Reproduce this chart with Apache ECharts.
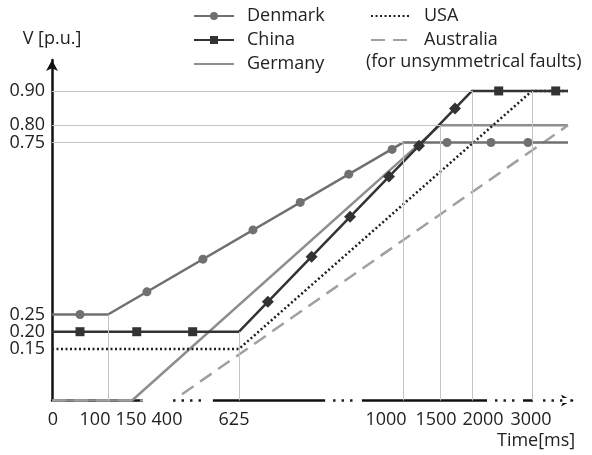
<!DOCTYPE html>
<html>
<head>
<meta charset="utf-8">
<script src="https://cdn.jsdelivr.net/npm/echarts@6/dist/echarts.min.js"></script>
<style>
  html, body { margin: 0; padding: 0; background: #fff; }
  #chart { width: 592px; height: 455px; }
</style>
</head>
<body>
<div id="chart"></div>
<script>
// Fault ride-through voltage profiles per grid code (time in ms, voltage in p.u.)
const denmarkT = [0, 100, 1000, 3600];
const denmarkV = [0.25, 0.25, 0.75, 0.75];
const denmarkMarkT = [50, 241, 502, 657, 765, 876, 975, 1609, 2317, 2933];
const denmarkMarkV = [0.25, 0.316, 0.411, 0.496, 0.576, 0.658, 0.73, 0.75, 0.75, 0.75];

const chinaT = [0, 625, 2000, 3600];
const chinaV = [0.2, 0.2, 0.9, 0.9];
const chinaSquareT = [50, 179, 467, 2445, 3395];
const chinaSquareV = [0.2, 0.2, 0.2, 0.9, 0.9];
const chinaDiamondT = [691, 791, 879, 968, 1216, 1734];
const chinaDiamondV = [0.287, 0.418, 0.534, 0.651, 0.741, 0.849];

const germanyT = [0, 150, 1500, 3600];
const germanyV = [0, 0, 0.8, 0.8];

const usaT = [0, 625, 3000, 3600];
const usaV = [0.15, 0.15, 0.9, 0.9];

const australiaT = [0, 400, 3600];
const australiaV = [0, 0, 0.8];

// Thin reference lines: verticals at key times, horizontals at key levels
const guideT = [100, 625, 1000, 1500, 2000, 3000];
const guideTopV = [0.25, 0.2, 0.75, 0.8, 0.9, 0.9];
const levelV = [0.9, 0.8, 0.75];
const levelEndT = [2000, 1500, 1000];

// Tick labels
const timeTicks = [0, 100, 150, 400, 625, 1000, 1500, 2000, 3000];
const voltTicks = [0.15, 0.2, 0.25, 0.75, 0.8, 0.9];

// Broken time axis: stretches left blank, and stretches drawn as dots (ms)
const axisGaps = [[217, 536], [822, 906], [2250, 2850], [3017, 3640]];
const axisDots = [[400, 516], [840, 886], [2383, 2717], [3183, 3583]];

// ---- Time axis scale: piecewise-linear warp from ms to axis units ----
const warpMs = [0, 100, 150, 400, 625, 1000, 1500, 2000, 3000, 3600];
const warpAt = [0, 56, 80, 121, 187, 351, 388, 420, 480, 516];
const axisEnd = 520;
// where each time tick label is anchored on the warped axis
const timeLabelAt = [1, 43, 79, 115, 182, 334, 384, 431, 479];

function warp(t) {
  const n = warpMs.length;
  let i = 0;
  while (i < n - 2 && t > warpMs[i + 1]) i++;
  const f = (t - warpMs[i]) / (warpMs[i + 1] - warpMs[i]);
  return warpAt[i] + f * (warpAt[i + 1] - warpAt[i]);
}
const pts = (T, V) => T.map((t, i) => [warp(t), V[i]]);
const seg = (x1, y1, x2, y2) => [{ coord: [x1, y1] }, { coord: [x2, y2] }];

const FONT = '"Open Sans", "Noto Sans", sans-serif';
const TXT = '#222';

const cDenmark = '#707070';
const cChina = '#333333';
const cGermany = '#8e8e8e';
const cUSA = '#1e1e1e';
const cAustralia = '#a0a0a0';

const markLineBase = { silent: true, symbol: ['none', 'none'], label: { show: false }, animation: false };
// legend entries drawn as a bare line (no marker in the middle)
const lineOnly = name => ({ name, itemStyle: { color: 'rgba(0,0,0,0)', opacity: 0, borderWidth: 0 } });
const legendText = { fontFamily: FONT, fontSize: 18, color: TXT, padding: [0, 0, 0, 8] };

// The voltage labels sit close together, so they are shared between two
// overlaid y axes (alternating ticks) to keep every one of them visible.
const voltAxis = (labels, withLine) => ({
  type: 'value', min: 0, max: 0.99, position: 'left',
  name: withLine ? 'V [p.u.]' : '', nameLocation: 'end', nameGap: 12,
  nameTextStyle: { fontFamily: FONT, fontSize: 18, color: TXT },
  axisLine: { show: withLine, symbol: ['none', 'arrow'], symbolSize: [9, 11],
    lineStyle: { color: '#111', width: 2.5 } },
  axisTick: { show: false },
  splitLine: { show: false },
  axisLabel: {
    customValues: labels,
    hideOverlap: false,
    showMinLabel: true,
    showMaxLabel: true,
    formatter: v => v.toFixed(2),
    fontFamily: FONT, fontSize: 18, color: TXT, margin: 7
  }
});

const option = {
  animation: false,
  backgroundColor: '#fff',
  textStyle: { fontFamily: FONT },
  grid: { left: 52, right: 20, top: 60, bottom: 54.5 },
  title: [
    { text: '(for unsymmetrical faults)', left: 366, top: 53, padding: 0,
      textStyle: { fontFamily: FONT, fontSize: 18, fontWeight: 'normal', color: TXT } },
    { text: 'Time[ms]', left: 497, top: 432, padding: 0,
      textStyle: { fontFamily: FONT, fontSize: 18, fontWeight: 'normal', color: TXT } }
  ],
  legend: [
    { data: ['Denmark', 'China', lineOnly('Germany')], left: 193, top: 7, orient: 'vertical',
      itemWidth: 40, itemHeight: 10, itemGap: 6, selectedMode: false, padding: 0,
      textStyle: legendText },
    { data: [lineOnly('USA'), lineOnly('Australia')], left: 370, top: 7, orient: 'vertical',
      itemWidth: 40, itemHeight: 10, itemGap: 6, selectedMode: false, padding: 0,
      textStyle: legendText }
  ],
  xAxis: {
    type: 'value', min: 0, max: axisEnd,
    axisLine: { show: true, symbol: ['none', 'arrow'], symbolSize: [9, 11],
      lineStyle: { color: '#111', width: 2.5 } },
    axisTick: { show: false },
    splitLine: { show: false },
    axisLabel: {
      customValues: timeLabelAt,
      hideOverlap: false,
      formatter: v => String(timeTicks[timeLabelAt.indexOf(v)]),
      fontFamily: FONT, fontSize: 18, color: TXT, margin: 10
    }
  },
  yAxis: [
    voltAxis(voltTicks.filter((v, i) => i % 2 === 0), true),
    voltAxis(voltTicks.filter((v, i) => i % 2 === 1), false)
  ],
  series: [
    // reference lines
    {
      type: 'line', name: 'guides', data: [], z: 1, silent: true,
      markLine: Object.assign({}, markLineBase, {
        lineStyle: { color: '#c4c4c4', width: 1, type: 'solid' },
        data: guideT.map((t, i) => seg(warp(t), 0, warp(t), guideTopV[i]))
          .concat(levelV.map((v, i) => seg(0, v, warp(levelEndT[i]), v)))
      })
    },
    // blank stretches of the broken time axis
    {
      type: 'line', name: 'axisGaps', data: [], z: 1, silent: true,
      markLine: Object.assign({}, markLineBase, {
        lineStyle: { color: '#ffffff', width: 5, type: 'solid' },
        data: axisGaps.map(g => seg(warp(g[0]), 0, warp(g[1]), 0))
      })
    },
    {
      type: 'line', name: 'axisDots', data: [], z: 1, silent: true,
      markLine: Object.assign({}, markLineBase, {
        lineStyle: { color: '#222', width: 2.5, type: [2.5, 6] },
        data: axisDots.map(g => seg(warp(g[0]), 0, warp(g[1]), 0))
      })
    },
    {
      type: 'line', name: 'Germany', data: pts(germanyT, germanyV), symbol: 'none',
      color: cGermany, lineStyle: { color: cGermany, width: 2.5 }
    },
    {
      type: 'line', name: 'Australia', data: pts(australiaT, australiaV), symbol: 'none',
      color: cAustralia, lineStyle: { color: cAustralia, width: 2.5, type: [14, 8] }
    },
    {
      type: 'line', name: 'USA', data: pts(usaT, usaV), symbol: 'none',
      color: cUSA, lineStyle: { color: cUSA, width: 2.5, type: [2, 2.5] }
    },
    {
      type: 'line', name: 'Denmark', data: pts(denmarkT, denmarkV),
      symbol: 'circle', symbolSize: 9, showSymbol: false,
      color: cDenmark, itemStyle: { color: cDenmark }, lineStyle: { color: cDenmark, width: 2.5 }
    },
    {
      type: 'scatter', name: 'Denmark', data: pts(denmarkMarkT, denmarkMarkV),
      symbol: 'circle', symbolSize: 9, itemStyle: { color: cDenmark, opacity: 1 }, z: 3
    },
    {
      type: 'line', name: 'China', data: pts(chinaT, chinaV),
      symbol: 'rect', symbolSize: 9, showSymbol: false,
      color: cChina, itemStyle: { color: cChina }, lineStyle: { color: cChina, width: 2.5 }
    },
    {
      type: 'scatter', name: 'China', data: pts(chinaSquareT, chinaSquareV),
      symbol: 'rect', symbolSize: 9, itemStyle: { color: cChina, opacity: 1 }, z: 3
    },
    {
      type: 'scatter', name: 'China', data: pts(chinaDiamondT, chinaDiamondV),
      symbol: 'diamond', symbolSize: 12, itemStyle: { color: cChina, opacity: 1 }, z: 3
    }
  ]
};

const chart = echarts.init(document.getElementById('chart'), null, { renderer: 'canvas' });
chart.setOption(option);
</script>
</body>
</html>
